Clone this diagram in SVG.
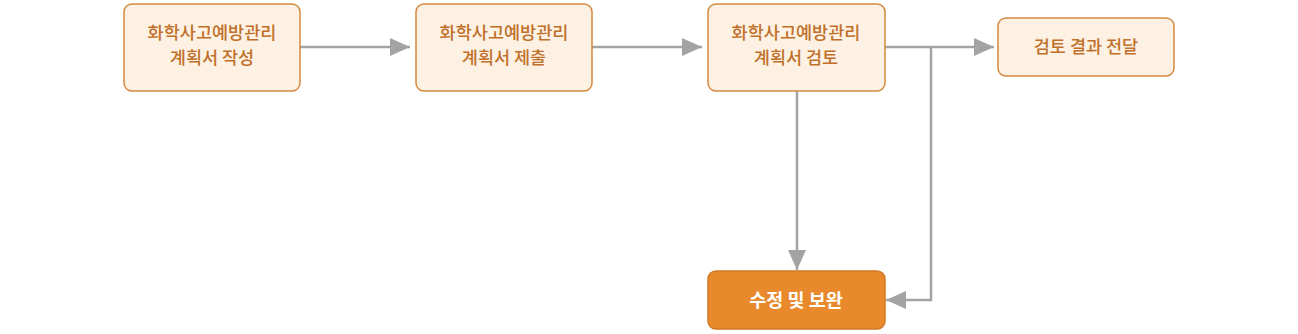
<svg xmlns="http://www.w3.org/2000/svg" width="1298" height="334" viewBox="0 0 1298 334">
<style>
.box{fill:#fdf1e4;stroke:#d38a3e;stroke-width:1.5}
.hl{fill:#e8892b;stroke:#d07a25;stroke-width:1.5}
.t{font-family:"Noto Sans CJK KR","Noto Sans",sans-serif;font-size:17.5px;font-weight:500;fill:#c0702a;text-anchor:middle}
.tw{font-family:"Noto Sans CJK KR","Noto Sans",sans-serif;font-size:18.5px;font-weight:700;fill:#ffffff;text-anchor:middle}
.c{fill:none;stroke:#a3a3a3;stroke-width:2.5}
</style>
<defs>
<marker id="a" viewBox="0 0 20 20" refX="20" refY="10" markerWidth="20" markerHeight="20" markerUnits="userSpaceOnUse" orient="auto">
<path d="M0,1 L20,10 L0,19 z" fill="#a3a3a3"/>
</marker>
</defs>
<g id="connectors">
<path class="c" d="M300,47 H410" marker-end="url(#a)"/>
<path class="c" d="M592,47 H702" marker-end="url(#a)"/>
<path class="c" d="M885,47 H994" marker-end="url(#a)"/>
<path class="c" d="M931,47 V300 H886" marker-end="url(#a)"/>
<path class="c" d="M797,91 V270" marker-end="url(#a)"/>
</g>
<g id="n1"><rect class="box" x="124" y="4" width="176" height="87" rx="8"/><text class="t" x="212" y="39">화학사고예방관리</text><text class="t" x="212" y="64">계획서 작성</text></g>
<g id="n2"><rect class="box" x="416" y="4" width="176" height="87" rx="8"/><text class="t" x="504" y="39">화학사고예방관리</text><text class="t" x="504" y="64">계획서 제출</text></g>
<g id="n3"><rect class="box" x="708" y="4" width="177" height="87" rx="8"/><text class="t" x="796" y="39">화학사고예방관리</text><text class="t" x="796" y="64">계획서 검토</text></g>
<g id="n4"><rect class="box" x="998" y="18" width="176" height="58" rx="8"/><text class="t" x="1086" y="53">검토 결과 전달</text></g>
<g id="n5"><rect class="hl" x="708" y="271" width="177" height="58" rx="8"/><text class="tw" x="796" y="307">수정 및 보완</text></g>
</svg>
